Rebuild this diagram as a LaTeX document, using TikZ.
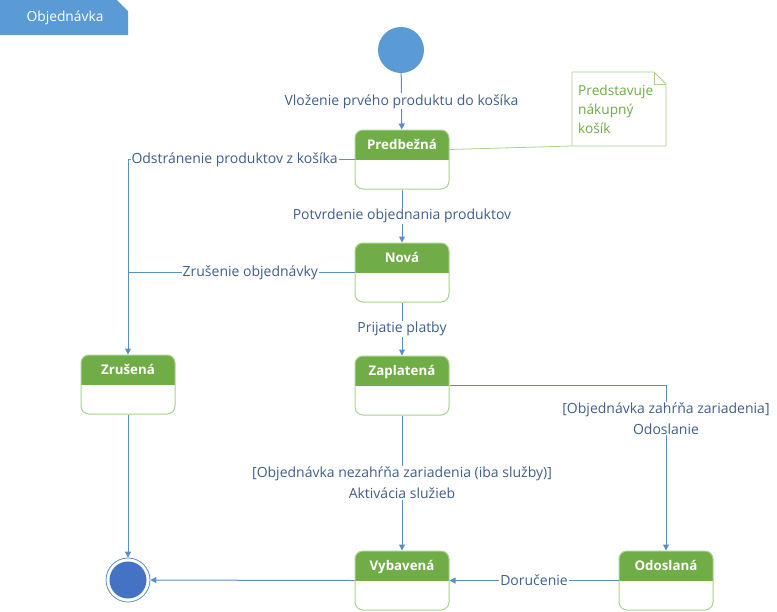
\documentclass[tikz,border=0pt]{standalone}
\usepackage{fontspec}
\setmainfont{Open Sans}
\usetikzlibrary{arrows.meta}
\definecolor{linkblue}{RGB}{91,141,199}
\definecolor{labelblue}{RGB}{64,96,140}
\definecolor{headgreen}{RGB}{112,173,71}
\definecolor{edgegreen}{RGB}{169,209,142}
\definecolor{startblue}{RGB}{91,155,213}
\definecolor{endblue}{RGB}{68,114,196}
\definecolor{tabblue}{RGB}{91,155,213}
\begin{document}
\begin{tikzpicture}[x=1pt, y=-1pt,
    state/.style={draw=edgegreen, line width=1pt, rounded corners=8pt, fill=white,
                  minimum width=94pt, minimum height=59pt, inner sep=0pt,
                  text height=19.5pt, text depth=39.5pt, text=white,
                  font=\bfseries\fontsize{13.3}{15}\selectfont,
                  path picture={\fill[headgreen, sharp corners]
                    (path picture bounding box.north west)
                    rectangle (path picture bounding box.east);}},
    trans/.style={-{Triangle[length=6pt,width=6pt]}, draw=linkblue, line width=1pt},
    wire/.style={draw=linkblue, line width=1pt},
    lbl/.style={fill=white, text=labelblue, inner sep=1pt, align=center,
                font=\fontsize{14}{21}\selectfont}
]
\useasboundingbox (0,0) rectangle (777,611);

% Title tab
\fill[tabblue] (0,0) -- (117,0) -- (128,11) -- (128,35) -- (0,35) -- cycle;
\node[text=white, font=\fontsize{13.8}{16}\selectfont] (title) at (65,18) {Objednávka};

% Start and end
\node[circle, fill=startblue, minimum size=46pt, inner sep=0pt] (start) at (401,50) {};
\node[circle, draw=linkblue, line width=0.8pt, minimum size=44pt, inner sep=0pt,
      path picture={\fill[endblue] (path picture bounding box.center) circle (18.5pt);}]
      (final) at (128,580) {};

% States
\node[state] (pred) at (402,159.5) {Predbežná};
\node[state] (nova) at (402,272.5) {Nová};
\node[state] (zapl) at (402,385.5) {Zaplatená};
\node[state] (zrus) at (128,384.5) {Zrušená};
\node[state] (vyba) at (402,580.5) {Vybavená};
\node[state] (odos) at (666,580.5) {Odoslaná};

% Note
\draw[edgegreen, line width=0.8pt, fill=white]
    (572,72) -- (654,72) -- (666,84) -- (666,146) -- (572,146) -- cycle;
\draw[edgegreen, line width=0.8pt] (654,72) -- (654,84) -- (666,84);
\node[text=headgreen, align=left, anchor=north west, inner sep=0pt,
      font=\fontsize{13.7}{19}\selectfont] (note) at (578,85)
      {Predstavuje\\nákupný\\košík};
\coordinate (notefoot) at (572,146);
\draw[edgegreen, line width=0.8pt] ([yshift=10pt]pred.east) -- (notefoot);

% Transitions
\draw[trans] (start) -- node[lbl] {Vloženie prvého produktu do košíka} (pred);
\draw[trans] (pred) -- node[lbl] {Potvrdenie objednania produktov} (nova);
\draw[trans] (nova) -- node[lbl] {Prijatie platby} (zapl);
\draw[trans] (pred.west) -| node[lbl, pos=0.5, anchor=west, xshift=2pt]
    {Odstránenie produktov z košíka} (zrus.north);
\coordinate (join) at (zrus.north |- nova.west);
\draw[wire] (nova.west) -- node[lbl, pos=0.46] {Zrušenie objednávky} (join);
\draw[trans] (zapl) -- node[lbl]
    {[Objednávka nezahŕňa zariadenia (iba služby)]\\Aktivácia služieb} (vyba);
\draw[trans] (zapl.east) -| node[lbl, pos=0.6]
    {[Objednávka zahŕňa zariadenia]\\Odoslanie} (odos.north);
\draw[trans] (odos.west) -- node[lbl] {Doručenie} (vyba.east);
\draw[trans] (vyba.west) -- (final);
\draw[trans] (zrus) -- (final);

\end{tikzpicture}
\end{document}
